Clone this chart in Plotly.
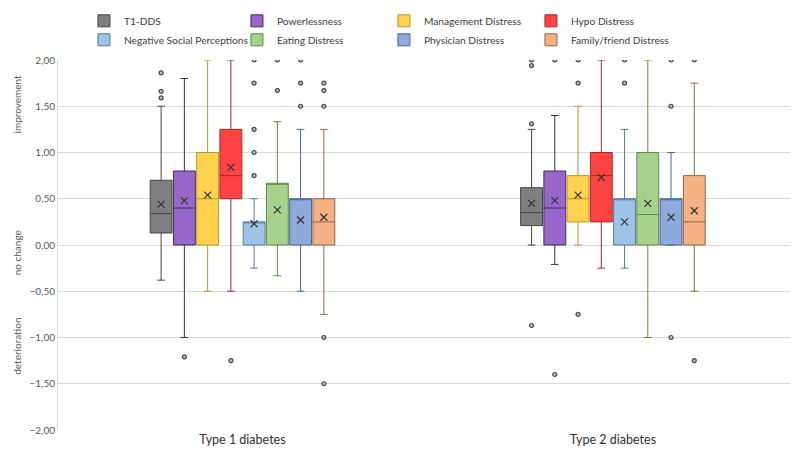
import plotly.graph_objects as go

groups = ["Type 1 diabetes", "Type 2 diabetes"]
series = ["T1-DDS", "Powerlessness", "Management Distress", "Hypo Distress",
          "Negative Social Perceptions", "Eating Distress", "Physician Distress",
          "Family/friend Distress"]

# [Type 1, Type 2]
q1 = {"T1-DDS": [0.13, 0.21], "Powerlessness": [0.0, 0.0], "Management Distress": [0.0, 0.25],
      "Hypo Distress": [0.50, 0.25], "Negative Social Perceptions": [0.0, 0.0],
      "Eating Distress": [0.0, 0.0], "Physician Distress": [0.0, 0.0], "Family/friend Distress": [0.0, 0.0]}
median = {"T1-DDS": [0.34, 0.35], "Powerlessness": [0.40, 0.40], "Management Distress": [0.50, 0.50],
          "Hypo Distress": [0.75, 0.75], "Negative Social Perceptions": [0.25, 0.50],
          "Eating Distress": [0.667, 0.33], "Physician Distress": [0.50, 0.50], "Family/friend Distress": [0.25, 0.25]}
q3 = {"T1-DDS": [0.70, 0.62], "Powerlessness": [0.80, 0.80], "Management Distress": [1.00, 0.75],
      "Hypo Distress": [1.25, 1.00], "Negative Social Perceptions": [0.25, 0.50],
      "Eating Distress": [0.667, 1.00], "Physician Distress": [0.50, 0.50], "Family/friend Distress": [0.50, 0.75]}
lower = {"T1-DDS": [-0.38, 0.0], "Powerlessness": [-1.00, -0.21], "Management Distress": [-0.50, 0.0],
         "Hypo Distress": [-0.50, -0.25], "Negative Social Perceptions": [-0.25, -0.25],
         "Eating Distress": [-0.333, -1.00], "Physician Distress": [-0.50, 0.0], "Family/friend Distress": [-0.75, -0.50]}
upper = {"T1-DDS": [1.50, 1.25], "Powerlessness": [1.80, 1.40], "Management Distress": [2.00, 1.50],
         "Hypo Distress": [2.00, 2.00], "Negative Social Perceptions": [0.50, 1.25],
         "Eating Distress": [1.333, 2.00], "Physician Distress": [1.25, 1.00], "Family/friend Distress": [1.25, 1.75]}
means = {"T1-DDS": [0.44, 0.45], "Powerlessness": [0.48, 0.48], "Management Distress": [0.54, 0.54],
         "Hypo Distress": [0.84, 0.73], "Negative Social Perceptions": [0.23, 0.25],
         "Eating Distress": [0.38, 0.45], "Physician Distress": [0.27, 0.30], "Family/friend Distress": [0.30, 0.37]}
outliers = {
    "T1-DDS": [[1.86, 1.66, 1.59], [2.00, 1.94, 1.31, -0.87]],
    "Powerlessness": [[-1.21], [2.00, -1.40]],
    "Management Distress": [[], [2.00, 1.75, -0.75]],
    "Hypo Distress": [[-1.25], []],
    "Negative Social Perceptions": [[2.00, 1.75, 1.25, 1.00, 0.75], [2.00, 1.75]],
    "Eating Distress": [[2.00, 1.67], []],
    "Physician Distress": [[2.00, 1.75, 1.50], [2.00, 1.50, -1.00]],
    "Family/friend Distress": [[1.75, 1.67, 1.50, -1.00, -1.50], [2.00, -1.25]],
}
legend_cols = {"T1-DDS": "c1", "Negative Social Perceptions": "c1", "Powerlessness": "c2",
               "Eating Distress": "c2", "Management Distress": "c3", "Physician Distress": "c3",
               "Hypo Distress": "c4", "Family/friend Distress": "c4"}
side_labels = ["improvement", "no change", "deterioration"]
side_label_pos = [1.52, -0.09, -1.1]

fills = ["#7f7f7f", "#9966cc", "#ffd24d", "#ff4343", "#9dc3e6", "#a9d18e", "#8eaadb", "#f4b183"]
lines = ["#454545", "#3f2a58", "#b8962e", "#a02828", "#5a7a99", "#5d8a44", "#4a6494", "#8f6448"]

GAP = 0.498
fig = go.Figure()
for i, s in enumerate(series):
    fig.add_trace(go.Box(
        name=s, x=groups, q1=q1[s], median=median[s], q3=q3[s],
        lowerfence=lower[s], upperfence=upper[s],
        fillcolor=fills[i], line=dict(color=lines[i], width=1),
        whiskerwidth=0.35, offsetgroup=s, legendgroup=legend_cols[s],
        legendwidth=108 if legend_cols[s] == "c1" else 102,
        boxpoints=False, hoverinfo="skip"))
for i, s in enumerate(series):
    ox, oy = [], []
    for g, vals in zip(groups, outliers[s]):
        ox += [g] * len(vals)
        oy += vals
    fig.add_trace(go.Scatter(
        x=ox, y=oy, mode="markers", offsetgroup=s, showlegend=False,
        marker=dict(symbol="circle", size=4, color="#bbbbbb",
                    line=dict(color="#444444", width=1.2)), hoverinfo="skip"))
    fig.add_trace(go.Scatter(
        x=groups, y=means[s], mode="markers", offsetgroup=s, showlegend=False,
        marker=dict(symbol="x-thin", size=7, line=dict(color="#333333", width=1.2)),
        hoverinfo="skip"))

fig.update_layout(
    width=792, height=452,
    margin=dict(l=58, r=2, t=60, b=22, autoexpand=False),
    paper_bgcolor="white", plot_bgcolor="white",
    boxmode="group", boxgap=GAP, boxgroupgap=0.06,
    scattermode="group", scattergap=GAP,
    separators=",.",
    font=dict(family="Lato, Open Sans, sans-serif", size=11, color="#404040"),
    legend=dict(orientation="h", traceorder="grouped", xref="container", yref="container",
                x=0.106, y=0.986, xanchor="left", yanchor="top",
                entrywidthmode="pixels", tracegroupgap=0,
                font=dict(size=10.2, color="#404040"), itemclick=False),
    xaxis=dict(type="category", range=[-0.498, 1.478], showgrid=False, showline=False,
               ticks="", automargin=False, tickfont=dict(size=12.5, color="#303030")),
    yaxis=dict(range=[-2, 2], dtick=0.5, tick0=0, tickformat=".2f", showgrid=True,
               gridcolor="#d9d9d9", gridwidth=1, zeroline=False, showline=True, automargin=False,
               linecolor="#d9d9d9", ticks="", tickfont=dict(size=10, color="#595959")),
    showlegend=True,
)
for txt, yv in zip(side_labels, side_label_pos):
    fig.add_annotation(text=txt, xref="paper", yref="y", x=-0.056, y=yv, textangle=-90,
                       showarrow=False, font=dict(size=10, color="#595959"), xanchor="center")

fig.write_html("out.html", config={"displayModeBar": False},
               post_script="document.body.style.margin='0';")
